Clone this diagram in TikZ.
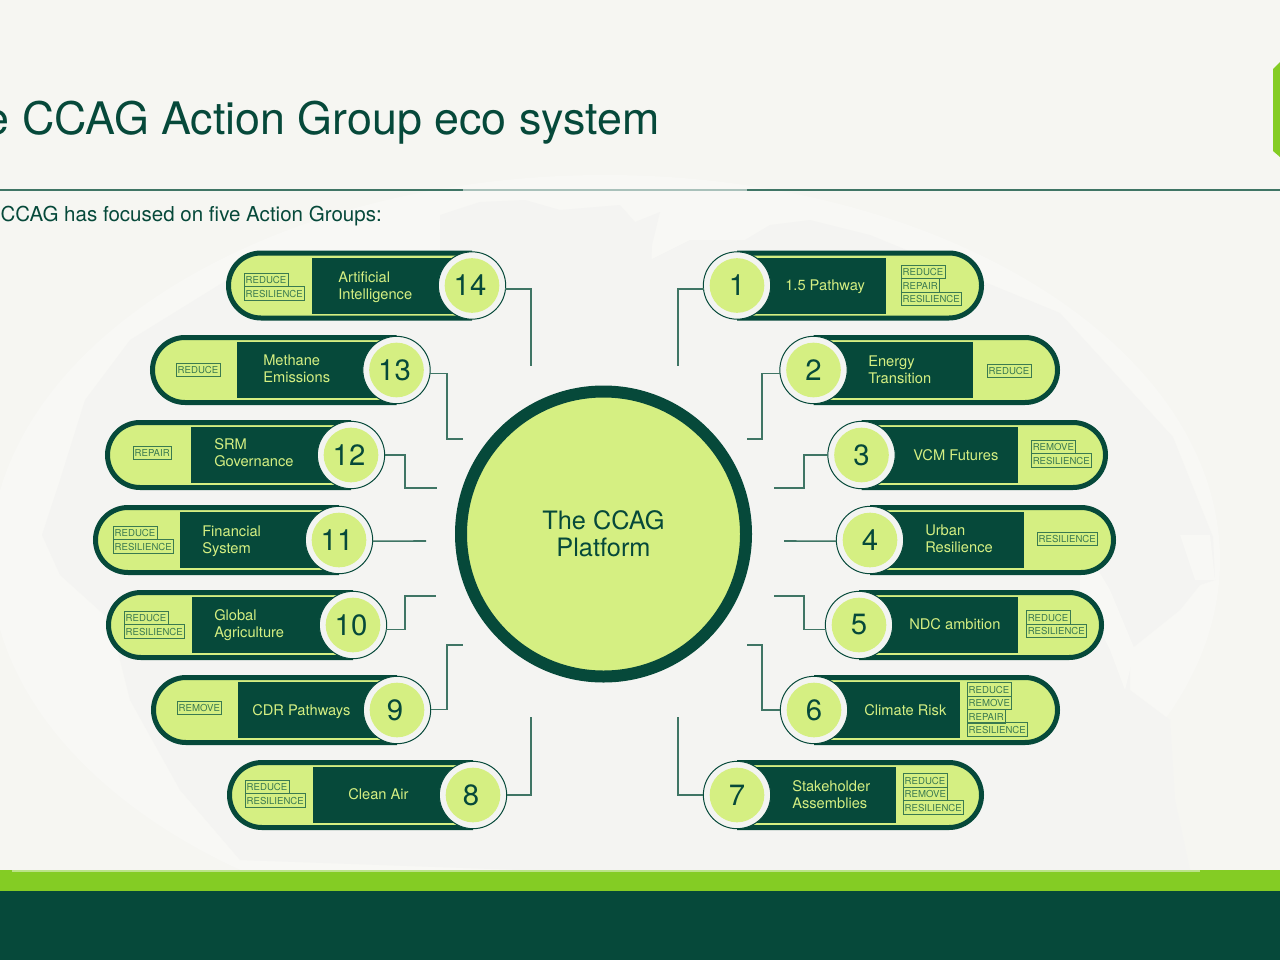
\documentclass[tikz,border=0pt]{standalone}
\usepackage{fontspec}
\setmainfont{TeX Gyre Heros}
\usetikzlibrary{shapes.misc}
\definecolor{deep}{HTML}{06493A}
\definecolor{lime}{HTML}{D5EF82}
\definecolor{leaf}{HTML}{84CC24}
\definecolor{paper}{HTML}{F6F6F2}
\definecolor{wire}{HTML}{3F7565}
\definecolor{tagline}{HTML}{3A7A50}
\definecolor{ringc}{HTML}{F3F4F1}
\definecolor{mapc}{HTML}{F4F4F2}
\definecolor{mapd}{HTML}{F8F8F5}
\newcommand{\fs}[2]{\fontsize{#1}{#2}\selectfont}
\tikzset{
 x=0.75pt,y=-0.75pt,
 pillR/.style={rounded rectangle,rounded rectangle west arc=none,draw=deep,fill=lime,line width=3.75pt,minimum height=48.75pt,inner sep=0pt,outer sep=0pt},
 pillL/.style={rounded rectangle,rounded rectangle east arc=none,draw=deep,fill=lime,line width=3.75pt,minimum height=48.75pt,inner sep=0pt,outer sep=0pt},
 inbox/.style={fill=deep,minimum height=42pt,inner sep=0pt,outer sep=0pt},
 ring/.style={circle,draw=deep,line width=0.75pt,fill=ringc,minimum size=50.5pt,inner sep=0pt,outer sep=0pt},
 numdisc/.style={circle,fill=lime,text=deep,minimum size=41pt,inner sep=0pt,outer sep=0pt,font=\fs{22}{22}},
 pilltext/.style={anchor=west,text=lime,align=left,font=\fs{11}{12.8},inner sep=0pt},
 tag/.style={draw=tagline,line width=0.6pt,text=tagline,font=\fs{7.2}{8},inner xsep=1.3pt,inner ysep=0pt,minimum height=10pt,anchor=west,outer sep=0pt},
 wirepath/.style={draw=wire,line width=1.2pt},
}
% #1 name #2 left #3 box-left #4 circle x #5 y #6 number
\newcommand{\lpill}[6]{
 \node[pillL,minimum width={(#4-#2-5)*0.75pt}] (p#1) at ({(#2+#4)/2},#5) {};
 \node[inbox,minimum width={(#4-#3)*0.75pt}] (b#1) at ({(#3+#4)/2},#5) {};
 \node[ring] (c#1) at (#4,#5) {};
 \node[numdisc] (n#1) at (#4,#5) {#6\kern3pt};
}
\newcommand{\rpill}[6]{
 \node[pillR,minimum width={(#2-#4-5)*0.75pt}] (p#1) at ({(#2+#4)/2},#5) {};
 \node[inbox,minimum width={(#3-#4)*0.75pt}] (b#1) at ({(#3+#4)/2},#5) {};
 \node[ring] (c#1) at (#4,#5) {};
 \node[numdisc] (n#1) at (#4,#5) {#6};
}
\begin{document}
\begin{tikzpicture}
\useasboundingbox (0,0) rectangle (1280,960);
\fill[paper] (0,0) rectangle (1280,960);
% faint globe and continents
\begin{scope}
\clip (0,0) rectangle (1280,870);
\fill[mapd] (605,560) ellipse[x radius=615,y radius=385];
\fill[mapc] (240,272) -- (130,340) -- (85,400) -- (60,480) -- (42,535) -- (60,575) -- (110,620) -- (130,700) -- (180,790) -- (240,860) -- (520,870) -- (520,300) -- (440,300) -- cycle;
\fill[mapc] (440,215) -- (480,202) -- (525,200) -- (560,210) -- (620,205) -- (635,222) -- (660,212) -- (652,245) -- (650,300) -- (440,300) -- cycle;
\fill[mapc] (520,300) rectangle (650,870);
\fill[mapc] (650,260) -- (690,240) -- (745,240) -- (770,225) -- (810,220) -- (870,235) -- (1060,313) -- (1173,437) -- (1213,537) -- (1215,580) -- (1200,585) -- (1180,610) -- (1130,650) -- (1130,690) -- (1170,720) -- (1175,800) -- (1190,870) -- (640,870) -- cycle;
\fill[mapd] (1080,540) -- (1110,590) -- (1135,650) -- (1125,690) -- (1110,650) -- (1080,590) -- cycle;
\fill[mapd] (1180,535) -- (1210,535) -- (1215,580) -- (1195,580) -- cycle;
\end{scope}
% header
\node[anchor=base east,text=deep,font=\fs{33.6}{34},inner sep=0pt] (title) at (660,134) {e CCAG Action Group eco system};
\node[anchor=base east,text=deep,font=\fs{15.4}{15.4},inner sep=0pt] (sub) at (382,221) {CCAG has focused on five Action Groups:};
\draw[wire,line width=1pt] (0,190) -- (463,190);
\draw[wire!45!white,line width=1pt] (463,190) -- (747,190);
\draw[wire,line width=1pt] (747,190) -- (1280,190);
\fill[leaf] (1280,62) -- (1273,69) -- (1273,151) -- (1280,157) -- cycle;
% footer
\fill[leaf] (0,870) rectangle (1280,891);
\fill[leaf!55!white] (12,870) rectangle (1200,871.5);
\fill[deep] (0,891) rectangle (1280,960);
% platform
\node[circle,draw=deep,fill=lime,line width=9pt,minimum size=213.75pt,inner sep=0pt,outer sep=0pt,text=deep,align=center,font=\fs{19}{20.5}] (hub) at (603.5,534) {The CCAG\\Platform};
% pills
\lpill{14}{226}{312}{472}{285.5}{14}
\lpill{13}{150}{237}{396.5}{370}{13}
\lpill{12}{105}{191}{351}{455}{12}
\lpill{11}{93}{180}{339}{540}{11}
\lpill{10}{106}{192}{353}{625}{10}
\lpill{9}{151}{238}{397}{710}{9}
\lpill{8}{227}{313}{473}{795}{8}
\rpill{1}{984}{886}{737}{285.5}{1}
\rpill{2}{1060}{973}{813.5}{370}{2}
\rpill{3}{1108}{1018}{861.5}{455}{3}
\rpill{4}{1116}{1024}{870}{540}{4}
\rpill{5}{1104}{1018}{859}{625}{5}
\rpill{6}{1060}{960}{814}{710}{6}
\rpill{7}{984}{896}{737}{795}{7}
% pill labels
\node[pilltext] (t14) at (338,287) {Artificial\\Intelligence};
\node[pilltext] (t13) at (263,368.5) {Methane\\Emissions};
\node[pilltext] (t12) at (214,453) {SRM\\Governance};
\node[pilltext] (t11) at (202,541.5) {Financial\\System};
\node[pilltext] (t10) at (214,625.5) {Global\\Agriculture};
\node[pilltext] (t9) at (252,711.5) {CDR Pathways};
\node[pilltext] (t8) at (348,794) {Clean Air};
\node[pilltext] (t1) at (785,286.5) {1.5 Pathway};
\node[pilltext] (t2) at (868,369.5) {Energy\\Transition};
\node[pilltext] (t3) at (913,455) {VCM Futures};
\node[pilltext] (t4) at (925,538.5) {Urban\\Resilience};
\node[pilltext] (t5) at (909,624) {NDC ambition};
\node[pilltext] (t6) at (864,710) {Climate Risk};
\node[pilltext] (t7) at (792,794.5) {Stakeholder\\Assemblies};
% tags
\node[tag] (g14a) at (244,280) {REDUCE};
\node[tag] (g14b) at (244,293.5) {RESILIENCE};
\node[tag] (g13a) at (176,370) {REDUCE};
\node[tag] (g12a) at (133,453) {REPAIR};
\node[tag] (g11a) at (113,533) {REDUCE};
\node[tag] (g11b) at (113,546.5) {RESILIENCE};
\node[tag] (g10a) at (124,618) {REDUCE};
\node[tag] (g10b) at (124,631.5) {RESILIENCE};
\node[tag] (g9a) at (177,708) {REMOVE};
\node[tag] (g8a) at (245,787) {REDUCE};
\node[tag] (g8b) at (245,800.5) {RESILIENCE};
\node[tag] (g1a) at (901,272) {REDUCE};
\node[tag] (g1b) at (901,285.5) {REPAIR};
\node[tag] (g1c) at (901,299) {RESILIENCE};
\node[tag] (g2a) at (987,371) {REDUCE};
\node[tag] (g3a) at (1031,447) {REMOVE};
\node[tag] (g3b) at (1031,460.5) {RESILIENCE};
\node[tag] (g4a) at (1037,539) {RESILIENCE};
\node[tag] (g5a) at (1026,617.5) {REDUCE};
\node[tag] (g5b) at (1026,631) {RESILIENCE};
\node[tag] (g6a) at (967,689.5) {REDUCE};
\node[tag] (g6b) at (967,703) {REMOVE};
\node[tag] (g6c) at (967,716.5) {REPAIR};
\node[tag] (g6d) at (967,729.5) {RESILIENCE};
\node[tag] (g7a) at (903,780.5) {REDUCE};
\node[tag] (g7b) at (903,794) {REMOVE};
\node[tag] (g7c) at (903,807.5) {RESILIENCE};
% connector ends
\coordinate (e14) at (531,366);
\coordinate (k13) at (447,439); \coordinate (e13) at (463,439);
\coordinate (k12) at (405,488); \coordinate (e12) at (437,488);
\coordinate (e11) at (426,541);
\coordinate (k10) at (405,596); \coordinate (e10) at (436,596);
\coordinate (k9) at (447,645); \coordinate (e9) at (463,645);
\coordinate (e8) at (531,717);
\coordinate (e1) at (678,366);
\coordinate (k2) at (762,439); \coordinate (e2) at (747,439);
\coordinate (k3) at (804,488); \coordinate (e3) at (774,488);
\coordinate (e4) at (784,541);
\coordinate (k5) at (804,596); \coordinate (e5) at (774,596);
\coordinate (k6) at (762,645); \coordinate (e6) at (747,645);
\coordinate (e7) at (678,717);
% connectors
\draw[wirepath] (c14.-6) -| (e14);
\draw[wirepath] (c13.-6) -| (k13) -- (e13);
\draw[wirepath] (c12.0) -| (k12) -- (e12);
\draw[wirepath] (c11.-2) -- (e11);
\draw[wirepath] (c10.-8) -| (k10) -- (e10);
\draw[wirepath] (c9.1) -| (k9) -- (e9);
\draw[wirepath] (c8.0) -| (e8);
\draw[wirepath] (c1.-174) -| (e1);
\draw[wirepath] (c2.-174) -| (k2) -- (e2);
\draw[wirepath] (c3.180) -| (k3) -- (e3);
\draw[wirepath] (c4.-178) -- (e4);
\draw[wirepath] (c5.-172) -| (k5) -- (e5);
\draw[wirepath] (c6.180) -| (k6) -- (e6);
\draw[wirepath] (c7.180) -| (e7);
\end{tikzpicture}
\end{document}
